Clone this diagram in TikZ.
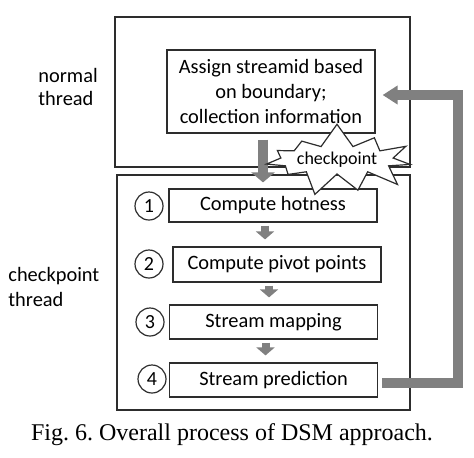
\documentclass[tikz,border=0pt]{standalone}
\usepackage{fontspec}
\setmainfont{Carlito}
\newfontfamily\capfont{Liberation Serif}
\usetikzlibrary{shapes.symbols,arrows.meta}
\definecolor{arrowgray}{RGB}{128,128,128}
\definecolor{edge}{RGB}{45,45,45}

\tikzset{
  frame/.style={draw=edge, line width=0.7pt, inner sep=0pt},
  stepbox/.style={draw=edge, line width=0.6pt, minimum width=104pt, inner sep=0pt,
                  font=\fontsize{10.2}{12.5}\selectfont},
  numcircle/.style={draw=edge, line width=0.6pt, circle, minimum size=14pt, inner sep=0pt,
                    font=\fontsize{10}{12}\selectfont},
  threadlabel/.style={anchor=west, align=left, inner sep=0pt},
  burst/.style={starburst, draw=edge, line width=0.6pt, fill=white, inner sep=0pt,
                minimum width=66pt, minimum height=38pt, starburst points=11,
                starburst point height=12pt, random starburst=7,
                font=\fontsize{9}{10}\selectfont},
  bigarrow/.style={draw=arrowgray, line width=5pt, -{Triangle[width=11.5pt,length=5pt]}},
  smallarrow/.style={draw=arrowgray, line width=4pt, -{Triangle[width=9pt,length=4pt]},
                     shorten <=1.5pt},
  fbarrow/.style={draw=arrowgray, line width=5pt, -{Triangle[width=9pt,length=7.5pt]}}
}

\begin{document}
\begin{tikzpicture}[x=0.5pt, y=-0.5pt]
  \useasboundingbox (0,0) rectangle (474,457);

  % thread frames
  \node[frame, minimum width=147.5pt, minimum height=75pt] (normalbox) at (262.5,92) {};
  \node[frame, minimum width=146.5pt, minimum height=117.5pt] (ckptbox) at (263.5,292.5) {};
  \node[threadlabel, font=\fontsize{10.2}{11.5}\selectfont] (normallbl) at (38,87) {normal\\thread};
  \node[threadlabel, font=\fontsize{10.2}{12.5}\selectfont] (ckptlbl) at (8,287) {checkpoint\\thread};

  % steps
  \node[stepbox, minimum height=41.5pt, align=center] (assign) at (271,91.5)
    {Assign streamid based\\on boundary;\\collection information};
  \node[stepbox, minimum height=16.5pt] (box1) at (273,205.5) {Compute hotness};
  \node[stepbox, minimum height=17.5pt] (box2) at (277,264.5) {Compute pivot points};
  \node[stepbox, minimum height=17pt] (box3) at (273.5,322) {Stream mapping};
  \node[stepbox, minimum height=17pt] (box4) at (273.5,380) {Stream prediction};

  \node[numcircle] (num1) at (149,206) {1};
  \node[numcircle] (num2) at (149,264) {2};
  \node[numcircle] (num3) at (150,322) {3};
  \node[numcircle] (num4) at (152,379) {4};

  % arrows
  \draw[bigarrow] ([xshift=-4pt,yshift=-3pt]assign.south) -- ([xshift=-5pt,yshift=3pt]box1.north);
  \foreach \a/\b in {box1/box2, box2/box3, box3/box4}
    \draw[smallarrow] ([xshift=-4pt]\a.south) -- ([xshift=-4pt,yshift=3.5pt]\a.south |- \b.north);

  \coordinate (fbturn) at (458,382.5);
  \draw[fbarrow] ([xshift=2pt,yshift=-1.25pt]box4.east) -- (fbturn)
    |- ([xshift=3.5pt,yshift=-1.75pt]assign.east);

  \node[burst] (ckpt) at (337,160) {checkpoint};

  \node[font=\capfont\fontsize{12}{14}\selectfont\frenchspacing] (caption) at (232,435)
    {Fig. 6. Overall process of DSM approach.};
\end{tikzpicture}
\end{document}
